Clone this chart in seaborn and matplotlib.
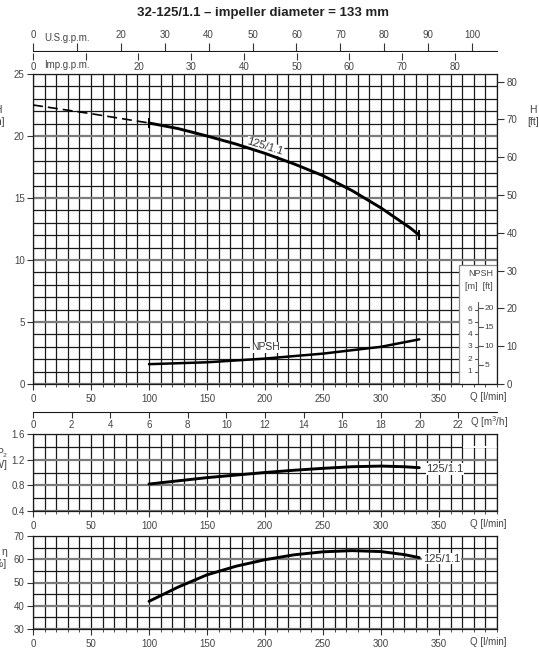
import matplotlib
matplotlib.use("Agg")
import matplotlib.pyplot as plt
import seaborn as sns
from matplotlib.patches import Rectangle
from matplotlib.ticker import MultipleLocator, FixedLocator, FuncFormatter

# pump curve 32-125/1.1, flow Q in l/min
q_head_ext = [0, 50, 100]
head_ext = [22.5, 21.8, 21.05]
q_head = [100, 125, 150, 175, 200, 225, 250, 275, 300, 325, 333]
head = [21.05, 20.6, 20.0, 19.35, 18.6, 17.75, 16.8, 15.6, 14.2, 12.6, 12.0]

q_npsh = [100, 150, 200, 250, 300, 333]
npsh = [1.6, 1.75, 2.05, 2.45, 3.0, 3.6]

q_p2 = [100, 125, 150, 175, 200, 225, 250, 275, 300, 320, 333]
p2 = [0.82, 0.87, 0.92, 0.96, 1.0, 1.035, 1.065, 1.09, 1.1, 1.09, 1.075]

q_eff = [100, 125, 150, 175, 200, 225, 250, 275, 300, 320, 333]
eff = [41.9, 48.0, 53.3, 57.0, 59.8, 61.9, 63.2, 63.7, 63.3, 62.0, 60.7]

curve_name = "125/1.1"
title = "32-125/1.1 \u2013 impeller diameter = 133 mm"

q_labels = [0, 50, 100, 150, 200, 250, 300, 350]
us_ticks = list(range(0, 101, 10))
imp_ticks = list(range(0, 81, 10))
m3h_ticks = list(range(0, 23, 2))
ft_ticks = list(range(0, 81, 10))
npsh_m_ticks = [1, 2, 3, 4, 5, 6]
npsh_ft_ticks = [5, 10, 15, 20]

LPM_US = 0.264172
LPM_IMP = 0.219969
LPM_M3H = 0.06
M_FT = 3.28084

sns.set_style("ticks")
plt.rcParams['font.family'] = ['Liberation Sans Narrow', 'Liberation Sans', 'DejaVu Sans']

W, H = 539, 664
fig = plt.figure(figsize=(W / 100, H / 100), dpi=100)

TXT = '#444444'
LINE = '#1a1a1a'


def box(l, t, r, b):
    return [l / W, 1 - b / H, (r - l) / W, (b - t) / H]


def ftext(x, y, s, **kw):
    kw.setdefault('color', TXT)
    kw.setdefault('fontsize', 7)
    kw.setdefault('va', 'center')
    return fig.text(x / W, 1 - y / H, s, **kw)


def panel(ax, ylim, ymajor, yminor):
    ax.set_xlim(0, 400)
    ax.set_ylim(*ylim)
    ax.xaxis.set_major_locator(FixedLocator(q_labels))
    ax.xaxis.set_minor_locator(MultipleLocator(10))
    ax.yaxis.set_major_locator(MultipleLocator(ymajor))
    ax.yaxis.set_minor_locator(MultipleLocator(yminor))
    ax.set_axisbelow(True)
    ax.grid(which='minor', color=LINE, lw=0.9)
    ax.grid(which='major', axis='x', color=LINE, lw=0.9)
    ax.grid(which='major', axis='y', color='#7c7c7c', lw=1.6)
    for s in ax.spines.values():
        s.set_color(LINE)
        s.set_linewidth(0.9)
    ax.tick_params(which='major', length=4, width=0.8, color='#333333',
                   labelsize=7, labelcolor=TXT, pad=2)
    ax.tick_params(axis='x', which='minor', length=2, width=0.6, color='#333333')
    ax.tick_params(axis='y', which='minor', length=0)
    ax.tick_params(axis='x', which='major', pad=3)
    ax.set_xlabel('')
    ax.set_ylabel('')


ax_h = fig.add_axes(box(33, 74, 497, 384))
ax_p = fig.add_axes(box(33, 434, 497, 511))
ax_e = fig.add_axes(box(33, 536, 497, 629))

panel(ax_h, (0, 25), 5, 1)
panel(ax_p, (0.4, 1.6), 0.4, 0.2)
panel(ax_e, (30, 70), 10, 5)
ax_p.yaxis.set_major_formatter(FuncFormatter(lambda v, p: f"{v:.1f}"))

# head curve
sns.lineplot(x=q_head_ext, y=head_ext, ax=ax_h, color='black', lw=1.2,
             linestyle=(0, (6, 3)), zorder=3)
sns.lineplot(x=q_head, y=head, ax=ax_h, color='black', lw=2.1, zorder=3)
ax_h.plot([q_head[0], q_head[-1]], [head[0], head[-1]], ls='none', marker='|',
          ms=7, mew=1.4, color='black', zorder=3)
ax_h.text(200, 19.15, curve_name, rotation=-17, ha='center', va='center',
          fontsize=8, color='#333333', rotation_mode='anchor', zorder=2.8,
          bbox=dict(fc='white', ec='none', pad=0.3))

# NPSH curve
sns.lineplot(x=q_npsh, y=npsh, ax=ax_h, color='black', lw=1.8, zorder=3)
ax_h.text(200, 2.95, "NPSH", ha='center', va='center', fontsize=7.5,
          color='#333333', zorder=2.8, bbox=dict(fc='white', ec='none', pad=0.2))

# NPSH inset scale
ax_h.add_patch(Rectangle((367, 0), 33, 9.6, fc='white', ec='#888888', lw=0.9, zorder=2))
ax_h.text(386.3, 8.95, "NPSH", ha='center', va='center', fontsize=6.5, color=TXT, zorder=4)
ax_h.text(384, 7.9, "[m]  [ft]", ha='center', va='center', fontsize=6.5, color=TXT, zorder=4)
ax_h.plot([384, 384], [0, 6.6], color='#555555', lw=0.8, zorder=4)
for m in npsh_m_ticks:
    ax_h.plot([381, 384], [m, m], color='#555555', lw=0.8, zorder=4)
    ax_h.text(378.5, m, str(m), ha='right', va='center', fontsize=6, color=TXT, zorder=4)
for f in npsh_ft_ticks:
    ax_h.plot([384, 388], [f / M_FT, f / M_FT], color='#555555', lw=0.8, zorder=4)
    ax_h.text(389.5, f / M_FT, str(f), ha='left', va='center', fontsize=6, color=TXT, zorder=4)

# right axis in feet
ax_ft = ax_h.twinx()
ax_ft.set_ylim(0, 25 * M_FT)
ax_ft.yaxis.set_major_locator(FixedLocator(ft_ticks))
ax_ft.grid(False)
ax_ft.tick_params(length=5, width=0.8, color='#333333', labelsize=7, labelcolor=TXT, pad=2)
for s in ax_ft.spines.values():
    s.set_visible(False)

# power curve
sns.lineplot(x=q_p2, y=p2, ax=ax_p, color='black', lw=2.1, zorder=3)
ax_p.add_patch(Rectangle((371, 1.385), 29, 0.03, fc='white', ec='none', zorder=1))
ax_p.text(355, 1.055, curve_name, ha='center', va='center', fontsize=8,
          color='#333333', zorder=2.8, bbox=dict(fc='white', ec='none', pad=0.5))

# efficiency curve
sns.lineplot(x=q_eff, y=eff, ax=ax_e, color='black', lw=2.1, zorder=3)
ax_e.text(352, 60.3, curve_name, ha='center', va='center', fontsize=8,
          color='#333333', zorder=2.8, bbox=dict(fc='white', ec='none', pad=0.5))

# top flow axes (gpm)
ax_top = fig.add_axes(box(33, 51.5, 497, 52.5))
ax_top.set_xlim(0, 400)
ax_top.set_xticks([])
ax_top.set_yticks([])
ax_top.patch.set_visible(False)
for s in ax_top.spines.values():
    s.set_visible(False)
us = ax_top.secondary_xaxis('top', functions=(lambda q: q * LPM_US, lambda g: g / LPM_US))
us.set_xticks(us_ticks)
us.xaxis.set_major_formatter(FuncFormatter(lambda v, p: '' if round(v) == 10 else f"{v:.0f}"))
us.tick_params(length=6, width=0.8, color='#333333', labelsize=7, labelcolor=TXT, pad=2)
us.spines['top'].set_color(LINE)
imp = ax_top.secondary_xaxis('bottom', functions=(lambda q: q * LPM_IMP, lambda g: g / LPM_IMP))
imp.set_xticks(imp_ticks)
imp.xaxis.set_major_formatter(FuncFormatter(lambda v, p: '' if round(v) == 10 else f"{v:.0f}"))
imp.tick_params(length=5, width=0.8, color='#333333', labelsize=7, labelcolor=TXT, pad=2)
imp.spines['bottom'].set_visible(False)
ftext(44, 38, "U.S.g.p.m.")
ftext(44, 65, "Imp.g.p.m.")

# m3/h axis above power panel
ax_m3 = fig.add_axes(box(33, 410.5, 497, 411.5))
ax_m3.set_xlim(0, 400)
ax_m3.set_xticks([])
ax_m3.set_yticks([])
ax_m3.patch.set_visible(False)
for s in ax_m3.spines.values():
    s.set_visible(False)
m3 = ax_m3.secondary_xaxis('bottom', functions=(lambda q: q * LPM_M3H, lambda v: v / LPM_M3H))
m3.set_xticks(m3h_ticks)
m3.tick_params(length=4, width=0.8, color='#333333', labelsize=7, labelcolor=TXT, pad=2)
m3.spines['bottom'].set_color(LINE)

# axis labels (left ones sit partly off the canvas, as in the source chart)
ftext(470, 397, "Q [l/min]", ha='left')
ftext(470, 524, "Q [l/min]", ha='left')
ftext(470, 642, "Q [l/min]", ha='left')
ftext(470, 422, "Q [m$^3$/h]", ha='left')
ftext(5, 116, "H\n[m]", ha='right', multialignment='center', fontsize=7.5)
ftext(533, 116, "H\n[ft]", ha='center', multialignment='center', fontsize=7.5)
ftext(7, 459, "P\u2082\n[kW]", ha='right', multialignment='right', fontsize=7.5)
ftext(7, 558, "\u03b7\n[%]", ha='right', multialignment='right', fontsize=7.5)

ftext(263, 13, title, ha='center', fontsize=9.5, fontweight='bold',
      color='#222222', family=['Liberation Sans', 'DejaVu Sans'])

fig.savefig("out.png", dpi=100)
